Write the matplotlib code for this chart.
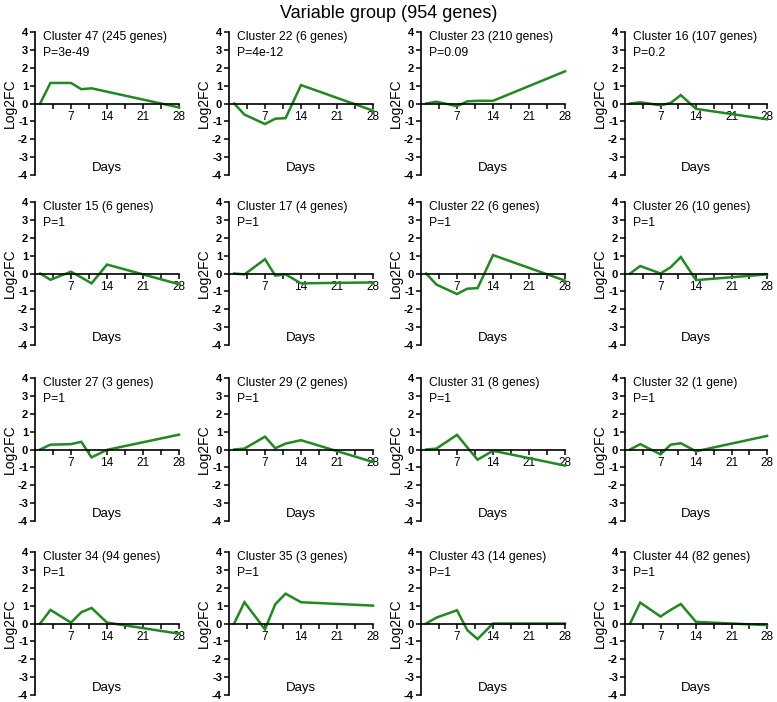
import numpy as np
import matplotlib
matplotlib.use("Agg")
import matplotlib.pyplot as plt

plt.rcParams['font.family'] = ['Liberation Sans', 'DejaVu Sans']

# %% data
days = [1, 3, 7, 9, 11, 14, 28]

clusters = ["Cluster 47 (245 genes)", "Cluster 22 (6 genes)", "Cluster 23 (210 genes)", "Cluster 16 (107 genes)",
            "Cluster 15 (6 genes)", "Cluster 17 (4 genes)", "Cluster 22 (6 genes)", "Cluster 26 (10 genes)",
            "Cluster 27 (3 genes)", "Cluster 29 (2 genes)", "Cluster 31 (8 genes)", "Cluster 32 (1 gene)",
            "Cluster 34 (94 genes)", "Cluster 35 (3 genes)", "Cluster 43 (14 genes)", "Cluster 44 (82 genes)"]

pvals = ["P=3e-49", "P=4e-12", "P=0.09", "P=0.2",
         "P=1", "P=1", "P=1", "P=1",
         "P=1", "P=1", "P=1", "P=1",
         "P=1", "P=1", "P=1", "P=1"]

c47 = [0, 1.15, 1.15, 0.8, 0.85, 0.66, -0.22]
c22 = [0, -0.62, -1.15, -0.85, -0.82, 1.03, -0.4]
c23 = [0, 0.1, -0.15, 0.12, 0.15, 0.15, 1.8]
c16 = [0, 0.07, -0.1, 0.03, 0.47, -0.3, -0.88]
c15 = [0, -0.35, 0.1, -0.22, -0.55, 0.5, -0.6]
c17 = [0, -0.05, 0.8, -0.12, -0.05, -0.55, -0.5]
c26 = [0, 0.42, 0.0, 0.35, 0.92, -0.37, -0.05]
c27 = [0, 0.27, 0.3, 0.43, -0.44, -0.02, 0.83]
c29 = [0, 0.05, 0.72, 0.07, 0.33, 0.52, -0.7]
c31 = [0, 0.05, 0.82, 0.12, -0.57, -0.07, -0.9]
c32 = [0, 0.3, -0.27, 0.27, 0.35, -0.1, 0.76]
c34 = [0, 0.76, 0.05, 0.63, 0.87, 0.05, -0.57]
c35 = [0, 1.19, -0.33, 1.08, 1.67, 1.19, 1.0]
c43 = [0, 0.33, 0.74, -0.37, -0.87, 0.0, 0.0]
c44 = [0, 1.17, 0.39, 0.76, 1.09, 0.09, -0.09]

series = [c47, c22, c23, c16, c15, c17, c22, c26, c27, c29, c31, c32, c34, c35, c43, c44]

# %% layout (pixels)
W, H = 777, 702
col_left = [35, 229, 421, 625]
col_right = [179, 373, 565, 767]
row_top = [32, 202, 378, 552]
ax_h = 143

fig = plt.figure(figsize=(W / 100, H / 100), dpi=100)
fig.text(0.5, 1 - 14 / H, "Variable group (954 genes)", ha="center", va="center", fontsize=13)

green = "#1f8a1f"

for i in range(16):
    r, c = divmod(i, 4)
    l = col_left[c] / W
    w = (col_right[c] - col_left[c]) / W
    b = 1 - (row_top[r] + ax_h) / H
    ax = fig.add_axes([l, b, w, ax_h / H])

    ax.plot(days, series[i], color=green, lw=1.8, clip_on=False, solid_joinstyle="miter")

    ax.set_xlim(0, 28)
    ax.set_ylim(-4, 4)
    ax.spines["right"].set_visible(False)
    ax.spines["top"].set_visible(False)
    ax.spines["bottom"].set_position(("data", 0))
    ax.spines["left"].set_linewidth(1.2)
    ax.spines["bottom"].set_linewidth(1.2)

    xt = np.arange(3.5, 28.1, 3.5)
    ax.set_xticks(xt)
    ax.set_xticklabels([f"{int(t)}" if t % 7 == 0 else "" for t in xt], fontsize=8.5)
    ax.set_yticks(range(-4, 5))
    ax.set_yticklabels([str(v) for v in range(-4, 5)], fontsize=8, fontweight="bold")
    ax.tick_params(axis="both", direction="out", length=3.5, width=1.1, pad=1.5)
    ax.tick_params(axis="x", pad=2)

    ax.set_ylabel("Log2FC", fontsize=10, labelpad=1)
    ax.text(14, -3.6, "Days", ha="center", va="center", fontsize=9.5)
    ax.text(1.6, 3.7, clusters[i], ha="left", va="center", fontsize=8.7)
    ax.text(1.6, 2.85, pvals[i], ha="left", va="center", fontsize=8.7)
    ax.patch.set_visible(False)

plt.savefig("out.png", dpi=100)
